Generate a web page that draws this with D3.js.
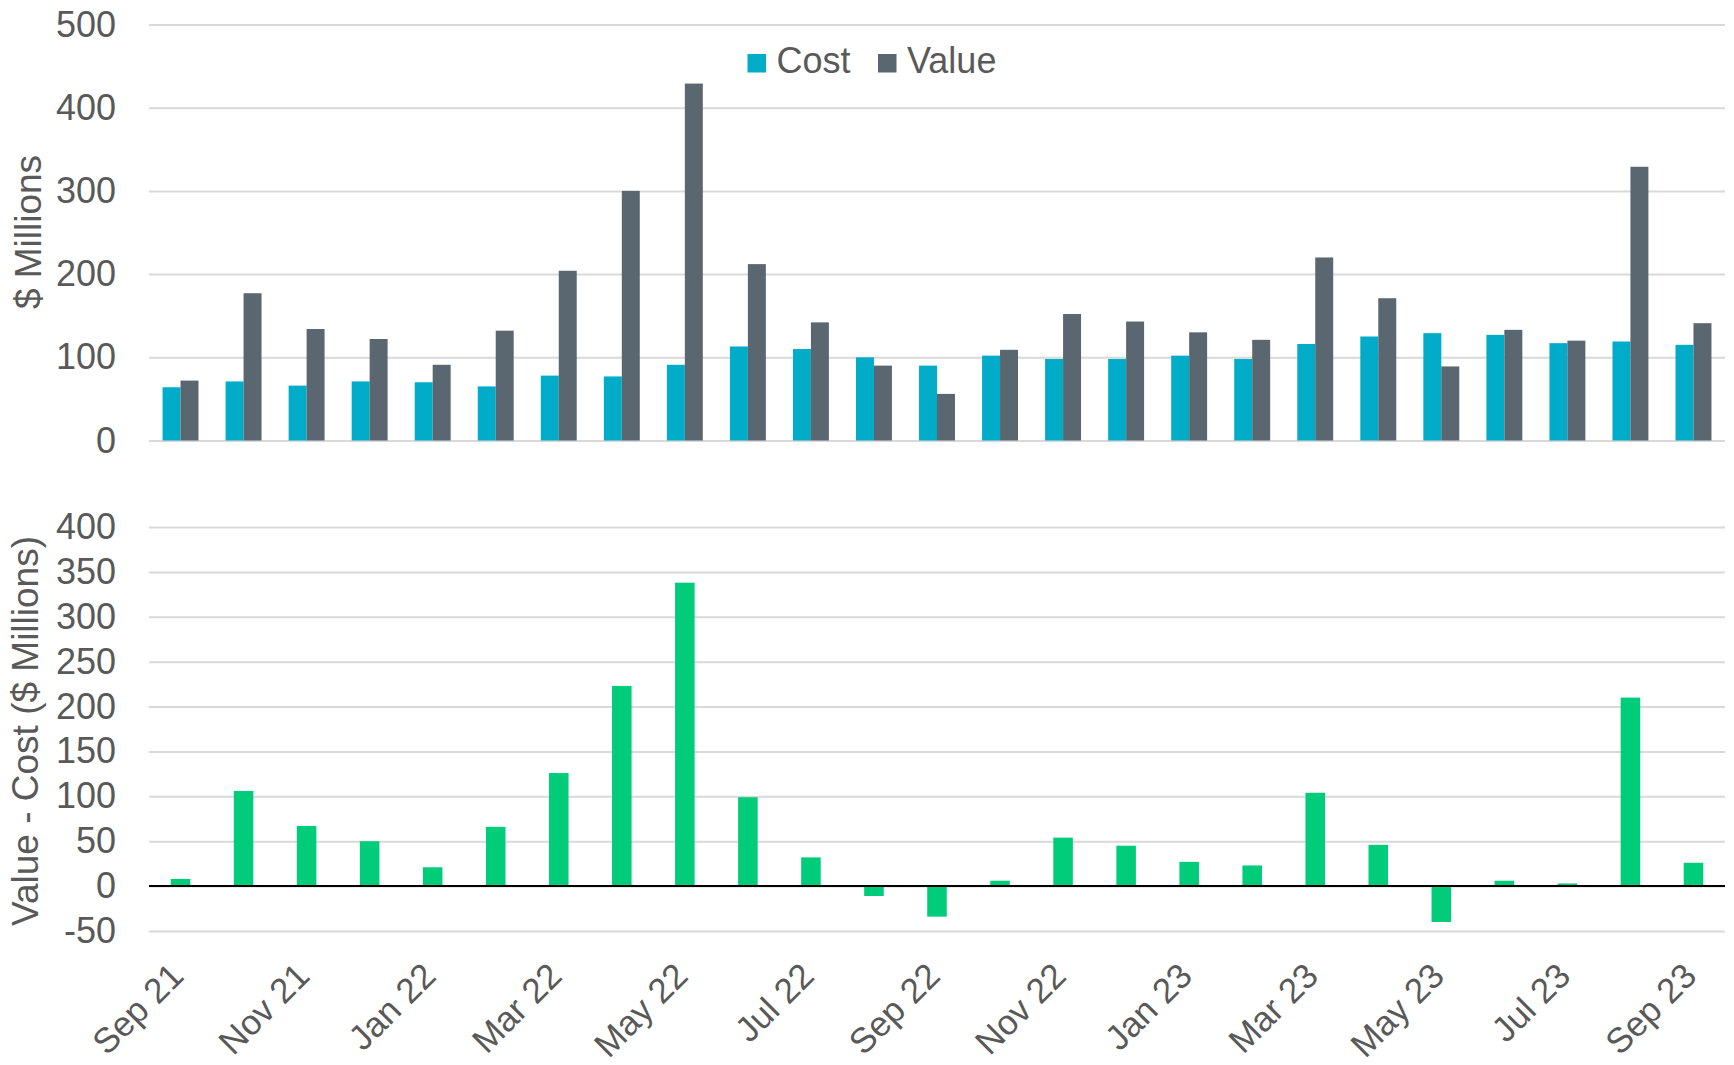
<!DOCTYPE html>
<html>
	<head>
		<title>Cost and Value</title>
		<meta charset="utf-8">
	</head>
	<body>
	</body>
</html>
<script src="https://cdn.jsdelivr.net/npm/d3@7"></script>
<style>
html,body{
	margin: 0;
	background: #fff;
}
text{
	font-family: "Liberation Sans", Arial, sans-serif;
	fill: #595959;
}
</style>
<script>
	var months=["Sep 21","Oct 21","Nov 21","Dec 21","Jan 22","Feb 22","Mar 22","Apr 22","May 22","Jun 22","Jul 22","Aug 22","Sep 22",
		"Oct 22","Nov 22","Dec 22","Jan 23","Feb 23","Mar 23","Apr 23","May 23","Jun 23","Jul 23","Aug 23","Sep 23"];
	var xLabels=["Sep 21","Nov 21","Jan 22","Mar 22","May 22","Jul 22","Sep 22","Nov 22","Jan 23","Mar 23","May 23","Jul 23","Sep 23"];
	var cost=[64,71,66,71,70,65,78,77,91,113,110,100,90,102,98,98,102,98,116,125,129,127,117,119,115];
	var value=[72,177,134,122,91,132,204,300,429,212,142,90,56,109,152,143,130,121,220,171,89,133,120,329,141];
	var diff=[8,106,67,50,21,66,126,223,338,99,32,-11,-34,6,54,45,27,23,104,46,-40,6,3,210,26];
	var topTicks=[0,100,200,300,400,500];
	var bottomTicks=[-50,0,50,100,150,200,250,300,350,400];
	var seriesNames=["Cost","Value"];
	var colors=["#00acc8","#5a6670"];

	var left=149, right=1725;

	var svg=d3.select("body")
	.append("svg")
	.attr("width",1734)
	.attr("height",1065);

	//top chart
	var x=d3.scaleBand()
	.domain(months)
	.range([left,right])
	.paddingInner(0.43)
	.paddingOuter(0.215);

	var xs=d3.scaleBand()
	.domain([0,1])
	.range([0,x.bandwidth()]);

	var yTop=d3.scaleLinear()
	.domain([0,500])
	.range([440.5,24.5]);

	var yAxisTop=d3.axisLeft(yTop)
	.tickValues(topTicks)
	.tickFormat((d)=>String(d))
	.tickSize(-(right-left))
	.tickPadding(33);

	var gTop=svg.append("g")
	.attr("transform","translate("+left+",0)")
	.call(yAxisTop);
	gTop.select(".domain").remove();
	gTop.selectAll("line").attr("stroke","#d9d9d9").attr("stroke-width",2);
	gTop.selectAll("text").style("font-size","36px").attr("fill","#595959");

	var groups=svg.selectAll(".grp")
	.data(months)
	.enter()
	.append("g")
	.attr("class","grp")
	.attr("transform",(d)=>"translate("+x(d)+",0)");

	groups.append("rect")
	.attr("x",xs(0))
	.attr("width",xs.bandwidth())
	.attr("y",(d,i)=>yTop(cost[i]))
	.attr("height",(d,i)=>yTop(0)-yTop(cost[i]))
	.attr("fill",colors[0]);

	groups.append("rect")
	.attr("x",xs(1))
	.attr("width",xs.bandwidth())
	.attr("y",(d,i)=>yTop(value[i]))
	.attr("height",(d,i)=>yTop(0)-yTop(value[i]))
	.attr("fill",colors[1]);

	//legend
	var legendX=[747.5,878];
	var legend=svg.selectAll(".legend")
	.data(seriesNames)
	.enter()
	.append("g")
	.attr("class","legend")
	.attr("transform",(d,i)=>"translate("+legendX[i]+",54)");
	legend.append("rect")
	.attr("width",18.5)
	.attr("height",18.5)
	.attr("fill",(d,i)=>colors[i]);
	legend.append("text")
	.attr("x",29)
	.attr("y",19)
	.style("font-size","36px")
	.text((d)=>d);

	svg.append("text")
	.attr("transform","translate(41,232) rotate(-90)")
	.attr("text-anchor","middle")
	.style("font-size","37px")
	.text("$ Millions");

	//bottom chart
	var x2=d3.scaleBand()
	.domain(months)
	.range([left,right])
	.paddingInner(0.69)
	.paddingOuter(0.345);

	var yBot=d3.scaleLinear()
	.domain([-50,400])
	.range([931,527]);

	var yAxisBot=d3.axisLeft(yBot)
	.tickValues(bottomTicks)
	.tickFormat((d)=>String(d))
	.tickSize(-(right-left))
	.tickPadding(33);

	var gBot=svg.append("g")
	.attr("transform","translate("+left+",0)")
	.call(yAxisBot);
	gBot.select(".domain").remove();
	gBot.selectAll("line").attr("stroke","#d9d9d9").attr("stroke-width",2);
	gBot.selectAll("text").style("font-size","36px").attr("fill","#595959");

	svg.selectAll(".diff")
	.data(diff)
	.enter()
	.append("rect")
	.attr("class","diff")
	.attr("x",(d,i)=>x2(months[i]))
	.attr("width",x2.bandwidth())
	.attr("y",(d)=>yBot(Math.max(d,0)))
	.attr("height",(d)=>Math.abs(yBot(d)-yBot(0)))
	.attr("fill","#00cc7a");

	svg.append("line")
	.attr("x1",left)
	.attr("x2",right)
	.attr("y1",yBot(0))
	.attr("y2",yBot(0))
	.attr("stroke","#000")
	.attr("stroke-width",2);

	var xAxis=d3.axisBottom(x2)
	.tickValues(xLabels)
	.tickSize(0);

	var gx=svg.append("g")
	.attr("transform","translate(0,978)")
	.call(xAxis);
	gx.select(".domain").remove();
	gx.selectAll("text")
	.attr("x",0)
	.attr("y",0)
	.attr("dy",null)
	.attr("transform","translate(5,0) rotate(-45)")
	.style("text-anchor","end")
	.style("font-size","35px")
	.attr("fill","#595959");

	svg.append("text")
	.attr("transform","translate(38,731) rotate(-90)")
	.attr("text-anchor","middle")
	.style("font-size","37px")
	.text("Value - Cost ($ Millions)");
</script>
